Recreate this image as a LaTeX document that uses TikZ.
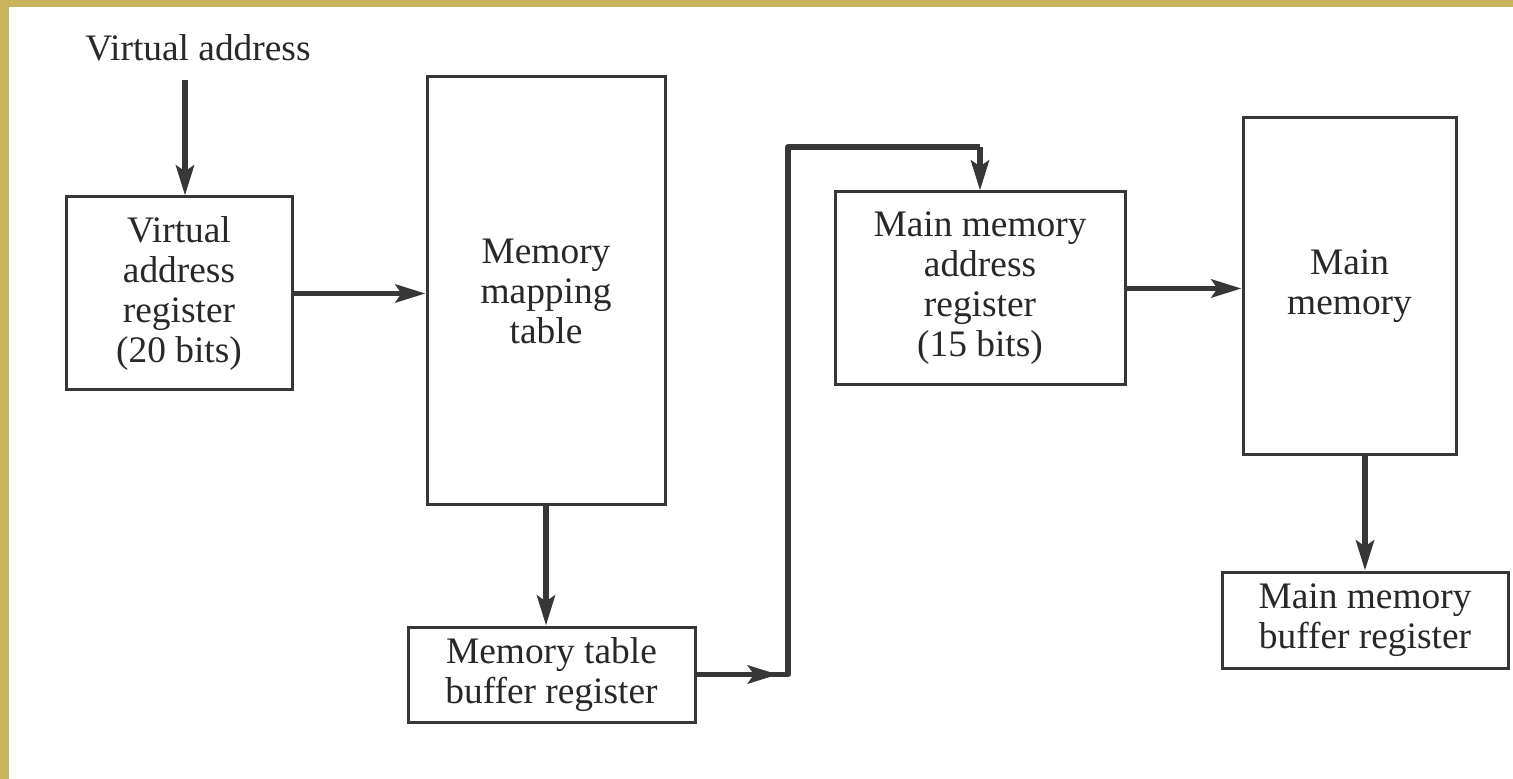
\documentclass[tikz,border=0pt]{standalone}
\usepackage{fontspec}
\setmainfont{Liberation Serif}
\usetikzlibrary{arrows.meta,calc}
\definecolor{gold}{RGB}{202,180,92}
\definecolor{ink}{RGB}{55,55,55}
\definecolor{txt}{RGB}{40,40,40}
\tikzset{
  box/.style={draw=ink, line width=1.5pt, fill=white, inner sep=0pt, align=center,
    text=txt, font=\fontsize{18.7pt}{20pt}\selectfont},
  lbl/.style={inner sep=0pt, text=txt, font=\fontsize{18.7pt}{20pt}\selectfont},
  conn/.style={draw=ink, line width=2.8pt, line join=round},
  arr/.style={conn, -{Stealth[length=15pt,width=9pt,inset=3pt]}}
}
\begin{document}
\begin{tikzpicture}[x=0.5pt,y=-0.5pt]
\useasboundingbox (0,0) rectangle (1513,779);
\fill[white] (0,0) rectangle (1513,779);
\fill[gold] (0,0) rectangle (1513,7);
\fill[gold] (0,0) rectangle (9,779);

% nodes
\node[lbl] (va) at (198,48) {Virtual address};
\node[box, minimum width=113pt, minimum height=96.5pt] (var) at (179,293.5)
  {Virtual\\address\\register\\(20 bits)};
\node[box, minimum width=119pt, minimum height=214pt] (mmt) at (546,291)
  {Memory\\mapping\\table};
\node[box, minimum width=143.5pt, minimum height=47.5pt] (mtbr) at (551.5,674.5)
  {Memory table\\buffer register};
\node[box, minimum width=145pt, minimum height=96.5pt] (mmar) at (980,288.5)
  {Main memory\\address\\register\\(15 bits)};
\node[box, minimum width=106.5pt, minimum height=168.5pt] (mm) at (1349.5,286.5)
  {Main\\memory};
\node[box, minimum width=143pt, minimum height=48pt] (mmbr) at (1365,620)
  {Main memory\\buffer register};

% helper coordinates
\coordinate (vax) at (185,80);
\coordinate (c1) at (788,147);
\coordinate (c0) at (mtbr.east -| c1);

% connectors
\draw[arr] (vax) -- (vax |- var.north);
\draw[arr] (var.east) -- (var.east -| mmt.west);
\draw[arr] (mmt.south) -- (mmt.south |- mtbr.north);
\draw[conn] (mtbr.east) -- (c0) -- (c1) -- (c1 -| mmar.north);
\draw[arr] (c1 -| mmar.north) -- (mmar.north);
\draw[arr] (mtbr.east) -- ($(c0)+(-10,0)$);
\draw[arr] (mmar.east) -- (mmar.east -| mm.west);
\draw[arr] (mm.south -| mmbr.north) -- (mmbr.north);
\end{tikzpicture}
\end{document}
